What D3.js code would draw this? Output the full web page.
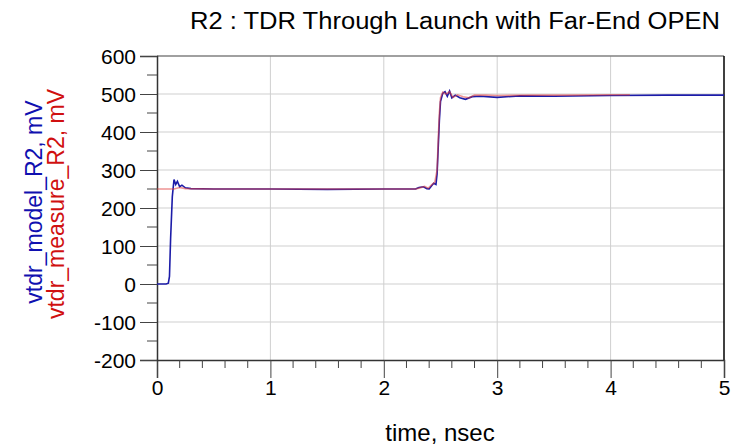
<!DOCTYPE html>
<html>
<head>
<meta charset="utf-8">
<script src="https://cdn.jsdelivr.net/npm/d3@7"></script>
<style>
  body { margin: 0; background: #fff; }
  svg { display: block; font-family: Arial, "Liberation Sans", sans-serif; }
</style>
</head>
<body>
<svg id="chart"></svg>
<script>
// time in nsec, voltage in mV
var modelTime = [0, 0.08, 0.1, 0.11, 0.12, 0.135, 0.15, 0.165, 0.18, 0.2, 0.22, 0.25, 0.3, 0.5, 1.0, 1.5, 2.0, 2.28, 2.31, 2.35, 2.38, 2.4, 2.42, 2.44, 2.46, 2.47, 2.48, 2.49, 2.5, 2.52, 2.54, 2.56, 2.58, 2.6, 2.63, 2.67, 2.72, 2.78, 2.85, 3.0, 3.2, 3.5, 4.0, 4.5, 5.0];
var modelMv   = [0, 0, 2, 20, 120, 230, 275, 262, 270, 256, 260, 253, 251, 250, 250, 249, 250, 250, 254, 256, 251, 250, 258, 265, 262, 290, 360, 430, 480, 502, 506, 494, 508, 490, 497, 490, 486, 493, 494, 491, 495, 494, 496, 497, 497];

var measureTime = [0, 0.15, 0.2, 0.25, 0.5, 1.0, 1.5, 2.0, 2.28, 2.32, 2.36, 2.39, 2.42, 2.45, 2.47, 2.48, 2.49, 2.5, 2.52, 2.55, 2.58, 2.61, 2.65, 2.7, 2.75, 2.8, 2.9, 3.0, 3.3, 3.6, 4.0, 4.17];
var measureMv   = [250, 250, 254, 251, 250, 250, 250, 250, 250, 253, 257, 252, 260, 268, 300, 380, 450, 490, 505, 500, 506, 491, 498, 493, 490, 497, 497, 496, 497, 497, 498, 498];

var xTicks = [0, 1, 2, 3, 4, 5];
var yTicks = [-200, -100, 0, 100, 200, 300, 400, 500, 600];

var width = 735, height = 448;
var margin = { top: 56, right: 11, bottom: 88, left: 157 };
var innerW = width - margin.left - margin.right,
    innerH = height - margin.top - margin.bottom;

var svg = d3.select("#chart").attr("width", width).attr("height", height);

var x = d3.scaleLinear().domain([0, 5]).range([0, innerW]);
var y = d3.scaleLinear().domain([-200, 600]).range([innerH, 0]);

var g = svg.append("g").attr("transform", "translate(" + margin.left + "," + margin.top + ")");

/* grid */
g.append("g").selectAll("line").data(xTicks.slice(1, -1)).enter().append("line")
  .attr("x1", d => x(d)).attr("x2", d => x(d)).attr("y1", 0).attr("y2", innerH)
  .attr("stroke", "#cfcfcf").attr("stroke-width", 1);
g.append("g").selectAll("line").data(yTicks.slice(1, -1)).enter().append("line")
  .attr("x1", 0).attr("x2", innerW).attr("y1", d => y(d)).attr("y2", d => y(d))
  .attr("stroke", "#cfcfcf").attr("stroke-width", 1);

/* frame top/right */
g.append("line").attr("x1", 0).attr("x2", innerW).attr("y1", 0).attr("y2", 0)
  .attr("stroke", "#808080").attr("stroke-width", 1.5);
g.append("line").attr("x1", innerW).attr("x2", innerW).attr("y1", 0).attr("y2", innerH)
  .attr("stroke", "#000").attr("stroke-width", 1.5);

/* axes */
var xMinor = d3.range(0, 5.001, 0.2).filter(d => Math.abs(d - Math.round(d)) > 1e-6);
var yMinor = d3.range(-150, 600, 100);

var xAxis = d3.axisBottom(x).tickValues(xTicks).tickFormat(d => String(d)).tickSize(18).tickPadding(2);
var gx = g.append("g").attr("transform", "translate(0," + innerH + ")").call(xAxis);
gx.selectAll(".tick line").attr("stroke", "#444");
gx.append("g").selectAll("line").data(xMinor).enter().append("line")
  .attr("x1", d => x(d)).attr("x2", d => x(d)).attr("y1", 0).attr("y2", 8).attr("stroke", "#444");

var yAxis = d3.axisLeft(y).tickValues(yTicks).tickFormat(d => String(d)).tickSize(17).tickPadding(4);
var gy = g.append("g").call(yAxis);
gy.selectAll(".tick line").attr("stroke", "#444");
gy.append("g").selectAll("line").data(yMinor).enter().append("line")
  .attr("x1", -10).attr("x2", 0).attr("y1", d => y(d)).attr("y2", d => y(d)).attr("stroke", "#444");

[gx, gy].forEach(function(a) {
  a.select(".domain").attr("stroke", "#333").attr("stroke-width", 1.5);
  a.selectAll(".tick text").attr("fill", "#000").style("font-size", "21px")
    .style("font-family", "Arial, 'Liberation Sans', sans-serif");
});
gy.selectAll(".tick text").attr("dy", "0.35em");

/* lines */
var line = d3.line().x(d => x(d[0])).y(d => y(d[1]));
var measure = measureTime.map((t, i) => [t, measureMv[i]]);
var model = modelTime.map((t, i) => [t, modelMv[i]]);

g.append("path").datum(model).attr("d", line)
  .attr("fill", "none").attr("stroke", "#1c1ca8").attr("stroke-width", 1.6);
g.append("path").datum(measure).attr("d", line)
  .attr("fill", "none").attr("stroke", "#e03c3c").attr("stroke-width", 1.6).attr("stroke-opacity", 0.55);

/* titles */
svg.append("text").attr("x", 190).attr("y", 29)
  .attr("textLength", 530).attr("lengthAdjust", "spacingAndGlyphs")
  .style("font-size", "23px").text("R2 : TDR Through Launch with Far-End OPEN");
svg.append("text").attr("x", 440).attr("y", 441).attr("text-anchor", "middle")
  .style("font-size", "24px").text("time, nsec");

svg.append("text").attr("transform", "translate(42,202) rotate(-90)").attr("text-anchor", "middle")
  .attr("fill", "#1010b0").style("font-size", "23px").text("vtdr_model_R2, mV");
svg.append("text").attr("transform", "translate(64,204) rotate(-90)").attr("text-anchor", "middle")
  .attr("fill", "#d01010").style("font-size", "23px").text("vtdr_measure_R2, mV");
</script>
</body>
</html>
